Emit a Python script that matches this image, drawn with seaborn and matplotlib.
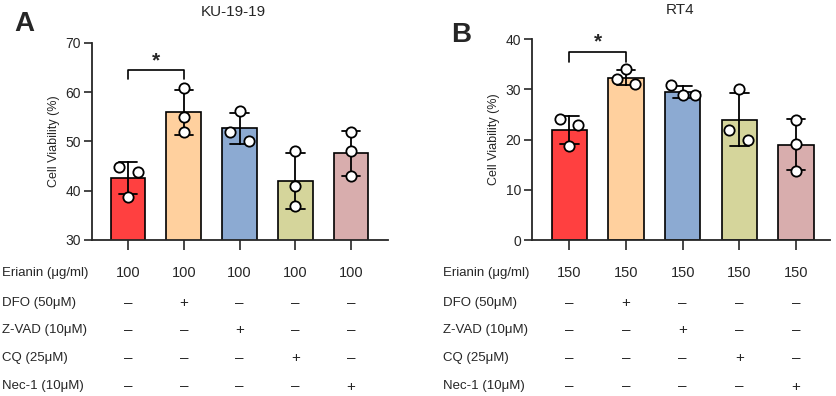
import matplotlib
matplotlib.use("Agg")
import matplotlib.pyplot as plt
import seaborn as sns
import pandas as pd
from matplotlib.transforms import blended_transform_factory

sns.set_theme(style="ticks")
plt.rcParams['font.family'] = ['Liberation Sans', 'DejaVu Sans']

# ---------------- data ----------------
groups = ["Ctrl", "DFO", "Z-VAD", "CQ", "Nec-1"]
colors = ["#FF4040", "#FFD09E", "#8CAAD2", "#D5D59B", "#D8ADAD"]

ku_title = "KU-19-19"
ku_values = [[44.9, 43.9, 38.8],
             [60.9, 54.9, 51.9],
             [56.1, 52.0, 50.0],
             [48.0, 41.0, 36.9],
             [52.0, 48.0, 42.9]]
ku_erianin = ["100", "100", "100", "100", "100"]

rt4_title = "RT4"
rt4_values = [[24.1, 22.9, 18.8],
              [34.0, 32.0, 31.1],
              [30.9, 28.8, 28.8],
              [30.0, 22.0, 19.9],
              [24.0, 19.1, 13.8]]
rt4_erianin = ["150", "150", "150", "150", "150"]

row_labels = ["Erianin (\u03bcg/ml)", "DFO (50\u03bcM)", "Z-VAD (10\u03bcM)",
              "CQ (25\u03bcM)", "Nec-1 (10\u03bcM)"]
# treatment present (+) / absent (–) per row (DFO, Z-VAD, CQ, Nec-1) per group
M = "\u2013"
treat_signs = [[M, "+", M, M, M],
               [M, M, "+", M, M],
               [M, M, M, "+", M],
               [M, M, M, M, "+"]]

sig_pair = (0, 1)
sig_label = "*"

# point jitter (style), in category-width units
ku_jitter = [[-0.16, 0.18, 0.0], [0, 0, 0], [0.0, -0.18, 0.16], [0, 0, 0], [0, 0, 0]]
rt4_jitter = [[-0.16, 0.16, 0.0], [0.0, -0.16, 0.16], [-0.21, 0.0, 0.21],
              [0.0, -0.18, 0.16], [0, 0, 0]]

W, H = 837, 396
fig = plt.figure(figsize=(W / 100, H / 100), dpi=100)


def px_axes(x0, y_top, x1, y_bot):
    return fig.add_axes([x0 / W, 1 - y_bot / H, (x1 - x0) / W, (y_bot - y_top) / H])


def draw_panel(ax, values, jitter, title, title_xy, ylim, yticks, sig_y, erianin,
               label_x, xlim, letter, letter_xy):
    rows = []
    for g, vals in zip(groups, values):
        for v in vals:
            rows.append({"group": g, "value": v})
    df = pd.DataFrame(rows)
    sns.barplot(data=df, x="group", y="value", hue="group", order=groups,
                hue_order=groups, palette=colors, errorbar="sd", capsize=0.33,
                err_kws={"linewidth": 1.3, "color": "black"},
                edgecolor="black", linewidth=1.2, width=0.62, legend=False,
                saturation=1, ax=ax)
    xs, ys = [], []
    for i, (vals, jit) in enumerate(zip(values, jitter)):
        for v, j in zip(vals, jit):
            xs.append(i + j)
            ys.append(v)
    sns.scatterplot(x=xs, y=ys, ax=ax, s=55, facecolor="white", edgecolor="black",
                    linewidth=1.3, zorder=5)
    ax.set_xlim(*xlim)
    ax.set_ylim(*ylim)
    ax.set_yticks(yticks)
    ax.set_xticks(range(len(groups)))
    ax.set_xticklabels([])
    ax.set_xlabel("")
    ax.set_ylabel("Cell Viability (%)", fontsize=9, labelpad=4)
    ax.tick_params(axis="y", labelsize=10, length=6, width=1.2, direction="out", pad=2)
    ax.tick_params(axis="x", length=7, width=1.2, direction="out")
    for s in ["left", "bottom"]:
        ax.spines[s].set_linewidth(1.3)
    sns.despine(ax=ax)
    ax.set_facecolor("none")

    fig.text(title_xy[0] / W, 1 - title_xy[1] / H, title, fontsize=11,
             ha="center", va="center")

    # significance bracket
    a, b = sig_pair
    top, leg = sig_y
    ax.plot([a, a, b, b], [leg, top, top, leg], color="black", lw=1.2,
            clip_on=False)
    ax.text((a + b) / 2, top, sig_label, ha="center", va="bottom", fontsize=15,
            fontweight="bold")

    # table below
    tr = blended_transform_factory(ax.transData, fig.transFigure)
    row_y = [273, 303, 330, 358, 386.5]
    fig.text(label_x / W, 1 - row_y[0] / H, row_labels[0], fontsize=9.5, va="center")
    for i, e in enumerate(erianin):
        ax.text(i, 1 - row_y[0] / H, e, transform=tr, fontsize=10.5, ha="center",
                va="center", clip_on=False)
    for r in range(4):
        yy = 1 - row_y[r + 1] / H
        fig.text(label_x / W, yy, row_labels[r + 1], fontsize=9.5, va="center")
        for i, sgn in enumerate(treat_signs[r]):
            ax.text(i, yy, sgn, transform=tr, fontsize=11, ha="center",
                    va="center", clip_on=False)
    fig.text(letter_xy[0] / W, 1 - letter_xy[1] / H, letter, fontsize=20,
             fontweight="bold", ha="left", va="center")


axA = px_axes(92, 43, 388, 240)
draw_panel(axA, ku_values, ku_jitter, ku_title, (233, 12), (30, 70),
           [30, 40, 50, 60, 70], (64.5, 62.7), ku_erianin, 2, (-0.645, 4.66),
           "A", (14, 24))

axB = px_axes(532, 39.3, 830, 240)
draw_panel(axB, rt4_values, rt4_jitter, rt4_title, (680, 10), (0, 40),
           [0, 10, 20, 30, 40], (37.5, 35.5), rt4_erianin, 443, (-0.66, 4.6),
           "B", (451, 35))

fig.savefig("out.png", dpi=100)
